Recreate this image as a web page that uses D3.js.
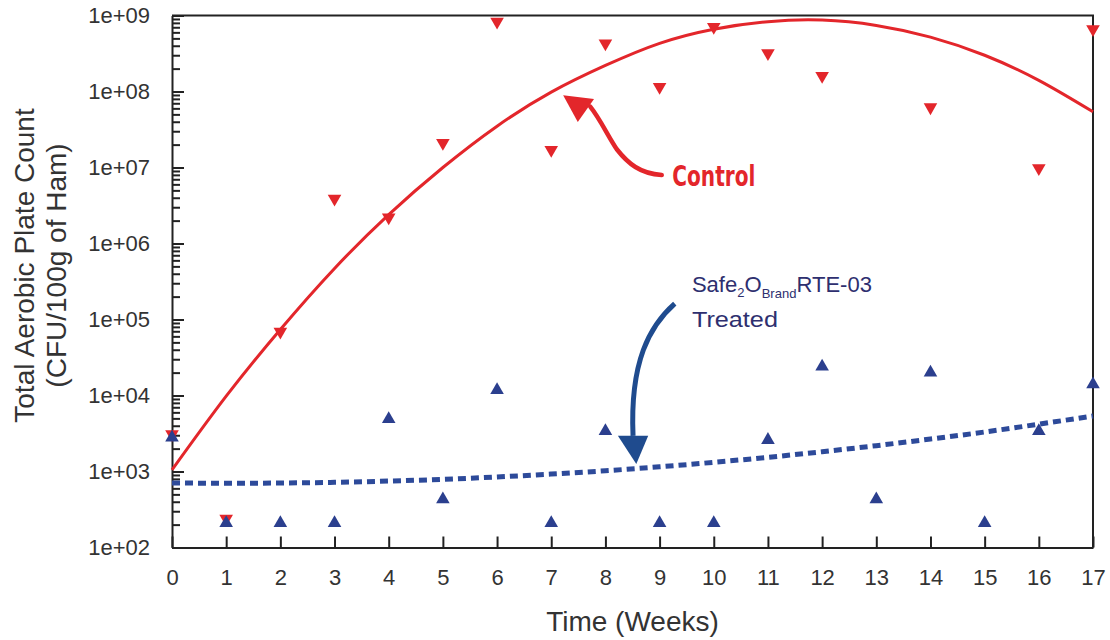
<!DOCTYPE html>
<html>
<head>
<meta charset="utf-8">
<script src="https://cdn.jsdelivr.net/npm/d3@7"></script>
<style>
  body { margin: 0; background: #fff; }
  text { font-family: "Liberation Sans", Arial, sans-serif; }
  .axis path, .axis line { stroke: #222; stroke-width: 2; }
  .axis text { fill: #333; font-size: 22px; font-family: "Liberation Sans", Arial, sans-serif; }
</style>
</head>
<body>
<div class="chart"></div>
<script>
var svgWidth = 1110;
var svgHeight = 640;

var margin = { top: 15.5, right: 17, bottom: 92.5, left: 172 };
var width = svgWidth - margin.left - margin.right;
var height = svgHeight - margin.top - margin.bottom;

// weeks 0..17
var weeks = [0, 1, 2, 3, 4, 5, 6, 7, 8, 9, 10, 11, 12, 13, 14, 15, 16, 17];

// control samples (CFU / 100g)
var controlCounts = [3.1e3, 2.4e2, 6.9e4, 3.9e6, 2.2e6, 2.1e7, 8.3e8, 1.7e7, 4.3e8,
  1.15e8, 7.1e8, 3.2e8, 1.6e8, null, 6.2e7, null, 9.8e6, 6.6e8];
// treated samples
var treatedCounts = [2.8e3, 2.1e2, 2.1e2, 2.1e2, 4.9e3, 4.3e2, 1.18e4, 2.1e2, 3.4e3,
  2.1e2, 2.1e2, 2.6e3, 2.4e4, 4.3e2, 2.0e4, 2.1e2, 3.4e3, 1.4e4];

// trend lines at each week
var controlTrend = [1.05e3, 9.8e3, 7.4e4, 4.7e5, 2.4e6, 1.0e7, 3.5e7, 9.8e7, 2.2e8,
  4.3e8, 6.6e8, 8.3e8, 8.7e8, 7.4e8, 5.2e8, 3.0e8, 1.4e8, 5.4e7];
var treatedTrend = [708, 700, 705, 720, 748, 789, 847, 925, 1023,
  1153, 1321, 1538, 1820, 2188, 2673, 3311, 4198, 5370];

var yTickValues = [1e2, 1e3, 1e4, 1e5, 1e6, 1e7, 1e8, 1e9];

var red = "#e3262b";
var blue = "#2b3f8e";

var svg = d3.select(".chart")
  .append("svg")
  .attr("width", svgWidth)
  .attr("height", svgHeight);

var chartGroup = svg.append("g")
  .attr("transform", `translate(${margin.left}, ${margin.top})`);

var xScale = d3.scaleLinear().domain([0, 17]).range([0, width]);
var yScale = d3.scaleLog().domain([1e2, 1e9]).range([height, 0]);

// minor ticks 2..9 in each decade
var minorTicks = [];
yTickValues.slice(0, -1).forEach(d => {
  for (var k = 2; k <= 9; k++) minorTicks.push(d * k);
});

chartGroup.append("g")
  .attr("class", "axis")
  .call(d3.axisLeft(yScale).tickValues(minorTicks).tickSizeInner(-8).tickSizeOuter(0).tickFormat(""))
  .call(g => g.select(".domain").remove());

chartGroup.append("g")
  .attr("class", "axis yAxis")
  .call(d3.axisLeft(yScale)
    .tickValues(yTickValues)
    .tickSizeInner(-12)
    .tickSizeOuter(0)
    .tickPadding(22)
    .tickFormat(d => "1e+" + String(Math.round(Math.log10(d))).padStart(2, "0")));

chartGroup.append("g")
  .attr("class", "axis xAxis")
  .attr("transform", `translate(0, ${height})`)
  .call(d3.axisBottom(xScale)
    .tickValues(weeks)
    .tickSizeInner(-11)
    .tickSizeOuter(0)
    .tickPadding(22)
    .tickFormat(d3.format("d")));

// frame top + right
chartGroup.append("path")
  .attr("d", `M0,0H${width}V${height}`)
  .attr("fill", "none")
  .attr("stroke", "#222")
  .attr("stroke-width", 2);

// trend lines
var trendLine = d3.line()
  .x((d, i) => xScale(weeks[i]))
  .y(d => yScale(d))
  .curve(d3.curveNatural);

chartGroup.append("path")
  .datum(controlTrend)
  .attr("d", trendLine)
  .attr("fill", "none")
  .attr("stroke", red)
  .attr("stroke-width", 3);

chartGroup.append("path")
  .datum(treatedTrend)
  .attr("d", trendLine)
  .attr("fill", "none")
  .attr("stroke", "#2d4a9a")
  .attr("stroke-width", 5)
  .attr("stroke-dasharray", "8,5");

// markers
var tri = d3.symbol().type(d3.symbolTriangle).size(80);

chartGroup.selectAll(".ctrl")
  .data(weeks.map((w, i) => ({ w: w, v: controlCounts[i] })).filter(d => d.v != null))
  .enter()
  .append("path")
  .attr("class", "ctrl")
  .attr("d", tri)
  .attr("transform", d => `translate(${xScale(d.w)}, ${yScale(d.v)}) rotate(180)`)
  .attr("fill", red);

chartGroup.selectAll(".trt")
  .data(weeks.map((w, i) => ({ w: w, v: treatedCounts[i] })))
  .enter()
  .append("path")
  .attr("class", "trt")
  .attr("d", tri)
  .attr("transform", d => `translate(${xScale(d.w)}, ${yScale(d.v)})`)
  .attr("fill", blue);

// axis titles
chartGroup.append("text")
  .attr("transform", `translate(${width / 2}, ${height + 83})`)
  .attr("text-anchor", "middle")
  .attr("fill", "#333")
  .style("font-size", "28px")
  .text("Time (Weeks)");

var yTitle = svg.append("text")
  .attr("transform", `translate(0, ${margin.top + height / 2 - 16}) rotate(-90)`)
  .attr("text-anchor", "middle")
  .attr("fill", "#333")
  .style("font-size", "28px");
yTitle.append("tspan").attr("x", 0).attr("y", 34).text("Total Aerobic Plate Count");
yTitle.append("tspan").attr("x", 0).attr("y", 66).text("(CFU/100g of Ham)");

// annotations (in data units: week, log10 count)
function px(w, lv) { return [xScale(w), yScale(Math.pow(10, lv))]; }
var annot = chartGroup.append("g")
  .attr("transform", `translate(${-margin.left}, ${-margin.top})`)
  .append("g")
  .attr("transform", `translate(${margin.left}, ${margin.top})`);

// Control arrow
var c0 = px(9.04, 6.90), c1 = px(8.64, 6.92), c2 = px(8.42, 7.05), c3 = px(8.21, 7.24),
    c4 = px(8.05, 7.41), c5 = px(7.90, 7.64), c6 = px(7.72, 7.80);
annot.append("path")
  .attr("d", `M${c0}C${c1} ${c2} ${c3}C${c4} ${c5} ${c6}`)
  .attr("fill", "none")
  .attr("stroke", red)
  .attr("stroke-width", 4.5)
  .attr("stroke-linecap", "round");
annot.append("path")
  .attr("d", `M${px(7.22, 7.95)}L${px(7.79, 7.90)}L${px(7.49, 7.60)}Z`)
  .attr("fill", red);
annot.append("text")
  .attr("x", px(9.235, 0)[0])
  .attr("y", px(0, 6.76)[1])
  .attr("fill", red)
  .attr("textLength", 83)
  .attr("lengthAdjust", "spacingAndGlyphs")
  .style("font-size", "28px")
  .style("font-weight", "bold")
  .style("font-family", "'Liberation Sans Narrow', 'DejaVu Sans Condensed', sans-serif")
  .text("Control");

// Treated arrow
var t0 = px(9.28, 5.21), t1 = px(8.82, 4.92), t2 = px(8.45, 4.45), t3 = px(8.51, 3.47);
annot.append("path")
  .attr("d", `M${t0}C${t1} ${t2} ${t3}`)
  .attr("fill", "none")
  .attr("stroke", "#1f4b8e")
  .attr("stroke-width", 5);
annot.append("path")
  .attr("d", `M${px(8.23, 3.47)}L${px(8.79, 3.47)}L${px(8.57, 3.10)}Z`)
  .attr("fill", "#1f4b8e");

var lbl = annot.append("text")
  .attr("x", px(9.597, 0)[0])
  .attr("y", px(0, 5.36)[1])
  .attr("fill", "#2e2f6f")
  .attr("textLength", 180)
  .attr("lengthAdjust", "spacingAndGlyphs")
  .style("font-size", "22px");
lbl.append("tspan").text("Safe");
lbl.append("tspan").attr("dy", 5).style("font-size", "13px").text("2");
lbl.append("tspan").attr("dy", -5).text("O");
lbl.append("tspan").attr("dy", 6).style("font-size", "13px").text("Brand");
lbl.append("tspan").attr("dy", -6).text("RTE-03");

annot.append("text")
  .attr("x", px(9.597, 0)[0])
  .attr("y", px(0, 4.9)[1])
  .attr("fill", "#2e2f6f")
  .attr("textLength", 86)
  .attr("lengthAdjust", "spacingAndGlyphs")
  .style("font-size", "22px")
  .text("Treated");
</script>
</body>
</html>
